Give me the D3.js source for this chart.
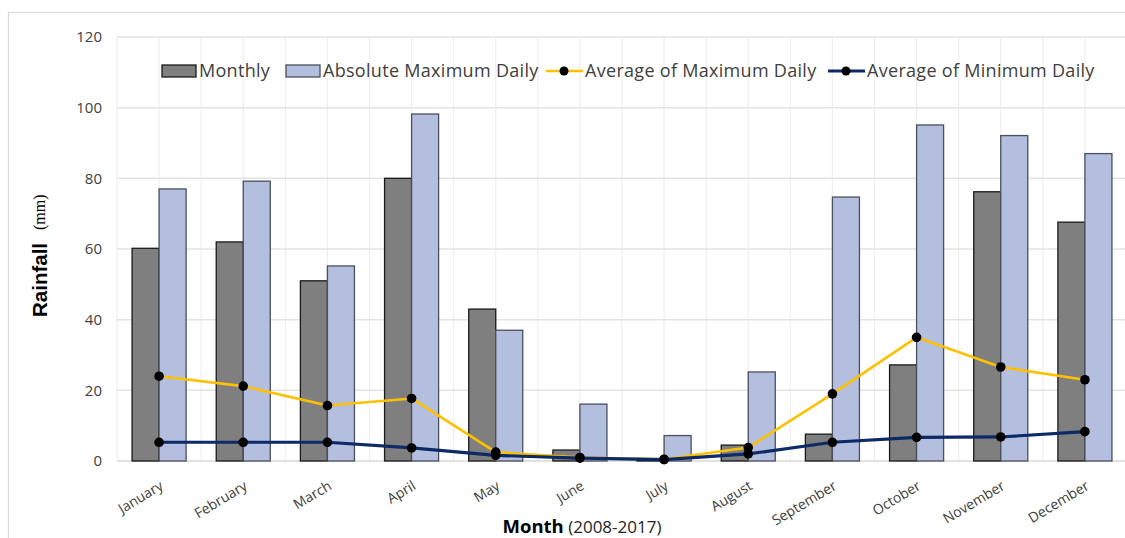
<!DOCTYPE html>
<html>
<head>
<meta charset="utf-8">
<script src="https://cdn.jsdelivr.net/npm/d3@7"></script>
<style>
  body { margin: 0; background: #fff; }
  svg { display: block; }
</style>
</head>
<body>
<svg id="chart" width="1125" height="538"></svg>
<script>
// --- Data ---
const months = ["January", "February", "March", "April", "May", "June",
                "July", "August", "September", "October", "November", "December"];
const monthly      = [60.2, 62, 51, 80, 43, 3.1, 0.3, 4.5, 7.6, 27.2, 76.2, 67.6];
const absMaxDaily  = [77, 79.2, 55.2, 98.2, 37, 16.1, 7.2, 25.2, 74.7, 95.1, 92.1, 87];
const avgMaxDaily  = [24, 21.2, 15.7, 17.7, 2.5, 1, 0.5, 3.8, 19, 35, 26.6, 23];
const avgMinDaily  = [5.3, 5.3, 5.3, 3.7, 1.6, 0.8, 0.4, 2, 5.3, 6.7, 6.8, 8.3];
const yTicks = [0, 20, 40, 60, 80, 100, 120];

const barSeries = [
    { key: "Monthly", values: monthly, fill: "#7f7f7f", stroke: "#1a1a1a" },
    { key: "Absolute Maximum Daily", values: absMaxDaily, fill: "#b4bfdf", stroke: "#4a4f5c" }
];
const lineSeries = [
    { key: "Average of Maximum Daily", values: avgMaxDaily, color: "#ffc000", width: 2.6 },
    { key: "Average of Minimum Daily", values: avgMinDaily, color: "#0b2a66", width: 3.2 }
];

const svg = d3.select("#chart");
const W = 1125, H = 538;
const plot = { left: 117, right: 1127, top: 37, bottom: 461 };

// outer chart frame
svg.append("rect")
    .attr("x", 8.5).attr("y", 12.5)
    .attr("width", W + 20).attr("height", H + 20)
    .attr("fill", "#fff").attr("stroke", "#d9d9d9").attr("stroke-width", 1.2);

// --- Scales ---
const x0 = d3.scaleBand()
    .domain(months)
    .range([plot.left, plot.right])
    .paddingInner(0.358)
    .paddingOuter(0.179);

const x1 = d3.scaleBand()
    .domain(barSeries.map(s => s.key))
    .range([0, x0.bandwidth()]);

const y = d3.scaleLinear().domain([0, 120]).range([plot.bottom, plot.top]);

const cx = m => x0(m) + x0.bandwidth() / 2;

// --- Gridlines ---
const step = x0.step();
const vLines = d3.range(0, months.length * 2 + 1).map(i => plot.left + i * step / 2);
svg.append("g")
    .selectAll("line")
    .data(vLines)
    .join("line")
    .attr("x1", d => d).attr("x2", d => d)
    .attr("y1", plot.top).attr("y2", plot.bottom)
    .attr("stroke", "#efefef").attr("stroke-width", 1.2);

svg.append("g")
    .selectAll("line")
    .data(yTicks)
    .join("line")
    .attr("x1", plot.left).attr("x2", W)
    .attr("y1", d => y(d)).attr("y2", d => y(d))
    .attr("stroke", d => d === 0 ? "#d9d9d9" : "#e3e3e3")
    .attr("stroke-width", 1.5);

// --- Y axis labels ---
const yAxis = svg.append("g")
    .attr("transform", `translate(${plot.left},0)`)
    .call(d3.axisLeft(y).tickValues(yTicks).tickSize(0).tickPadding(15));
yAxis.select(".domain").remove();
yAxis.selectAll("text")
    .attr("font-family", "Open Sans, sans-serif")
    .attr("font-size", 15)
    .attr("fill", "#404040");

// --- X axis labels ---
const xAxis = svg.append("g");
xAxis.selectAll("text")
    .data(months)
    .join("text")
    .attr("transform", d => `translate(${cx(d)},${plot.bottom + 19}) rotate(-31)`)
    .attr("text-anchor", "end")
    .attr("dy", "0.71em")
    .attr("font-family", "Open Sans, sans-serif")
    .attr("font-size", 14)
    .attr("fill", "#404040")
    .text(d => d);

// --- Bars ---
const barG = svg.append("g");
barSeries.forEach(s => {
    barG.append("g")
        .selectAll("rect")
        .data(months.map((m, i) => ({ m, v: s.values[i] })))
        .join("rect")
        .attr("x", d => x0(d.m) + x1(s.key))
        .attr("y", d => y(d.v))
        .attr("width", x1.bandwidth())
        .attr("height", d => y(0) - y(d.v))
        .attr("fill", s.fill)
        .attr("stroke", s.stroke)
        .attr("stroke-width", 1.3);
});

// --- Lines ---
const line = d3.line().x(d => cx(d.m)).y(d => y(d.v));
lineSeries.forEach(s => {
    const pts = months.map((m, i) => ({ m, v: s.values[i] }));
    svg.append("path")
        .datum(pts)
        .attr("d", line)
        .attr("fill", "none")
        .attr("stroke", s.color)
        .attr("stroke-width", s.width)
        .attr("stroke-linejoin", "round");
    svg.append("g")
        .selectAll("circle")
        .data(pts)
        .join("circle")
        .attr("cx", d => cx(d.m))
        .attr("cy", d => y(d.v))
        .attr("r", 4.8)
        .attr("fill", "#000");
});

// --- Legend ---
const legend = svg.append("g")
    .attr("font-family", "Open Sans, sans-serif")
    .attr("font-size", 18)
    .attr("letter-spacing", 0.3)
    .attr("fill", "#404040");
const legY = 71;
const legendPos = [162, 286, 546, 828];

barSeries.forEach((s, i) => {
    const g = legend.append("g").attr("transform", `translate(${legendPos[i]},${legY})`);
    g.append("rect")
        .attr("x", 0).attr("y", -6).attr("width", 34).attr("height", 12)
        .attr("fill", s.fill).attr("stroke", s.stroke).attr("stroke-width", 1.3);
    g.append("text").attr("x", 37).attr("dy", "0.35em").text(s.key);
});
lineSeries.forEach((s, i) => {
    const g = legend.append("g").attr("transform", `translate(${legendPos[i + 2]},${legY})`);
    g.append("line")
        .attr("x1", 0).attr("x2", 37)
        .attr("stroke", s.color).attr("stroke-width", s.width);
    g.append("circle").attr("cx", 18).attr("r", 4.5).attr("fill", "#000");
    g.append("text").attr("x", 39).attr("dy", "0.35em").text(s.key);
});

// --- Axis titles ---
svg.append("text")
    .attr("transform", "translate(47,280) rotate(-90)")
    .attr("text-anchor", "middle")
    .attr("font-family", "Liberation Sans, Arial, sans-serif")
    .attr("font-weight", "bold")
    .attr("font-size", 20.5)
    .attr("fill", "#000")
    .text("Rainfall");
svg.append("text")
    .attr("transform", "translate(45,230) rotate(-90)")
    .attr("text-anchor", "start")
    .attr("font-family", "Liberation Serif, Times New Roman, serif")
    .attr("font-size", 16)
    .attr("fill", "#000")
    .text("(mm)");

const xTitle = svg.append("text")
    .attr("x", 582)
    .attr("y", 533)
    .attr("text-anchor", "middle")
    .attr("font-family", "Open Sans, sans-serif")
    .attr("fill", "#000");
xTitle.append("tspan").attr("font-weight", "bold").attr("font-size", 18.5).text("Month");
xTitle.append("tspan").attr("font-size", 17).attr("fill", "#262626").text(" (2008-2017)");
</script>
</body>
</html>
